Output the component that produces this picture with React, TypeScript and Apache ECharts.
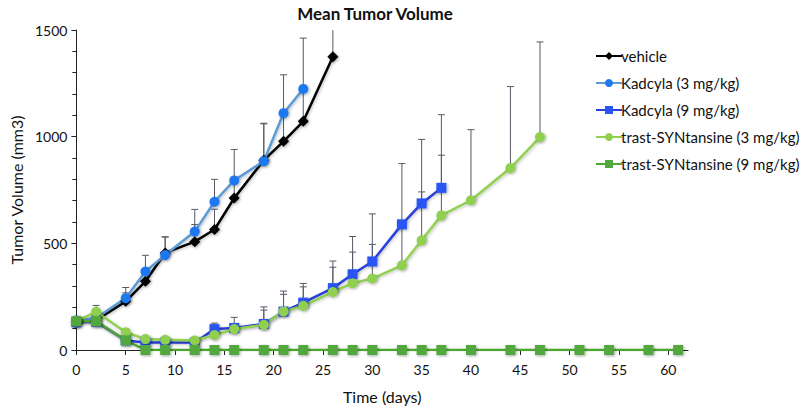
import React, { useEffect, useRef } from "react";
import * as echarts from "echarts";

const vehicleDays = [0, 2, 5, 7, 9, 12, 14, 16, 19, 21, 23, 26];
const vehicleVol = [135, 140, 228, 322, 455, 508, 565, 712, 890, 978, 1072, 1375];
const vehicleErr = [12, 25, 40, 45, 75, 80, 95, 85, 170, 130, 150, 200];

const kad3Days = [0, 2, 5, 7, 9, 12, 14, 16, 19, 21, 23];
const kad3Vol = [138, 150, 243, 368, 445, 555, 695, 795, 885, 1110, 1224];
const kad3Err = [15, 30, 50, 76, 85, 104, 105, 145, 178, 180, 238];

const kad9Days = [0, 2, 5, 7, 9, 12, 14, 16, 19, 21, 23, 26, 28, 30, 33, 35, 37];
const kad9Vol = [130, 132, 45, 35, 35, 35, 98, 103, 122, 180, 222, 290, 355, 415, 589, 687, 760];
const kad9Err = [12, 20, 15, 10, 10, 10, 28, 50, 80, 96, 90, 127, 177, 223, 285, 300, 343];

const trast3Days = [0, 2, 5, 7, 9, 12, 14, 16, 19, 21, 23, 26, 28, 30, 33, 35, 37, 40, 44, 47];
const trast3Vol = [135, 179, 83, 51, 48, 45, 70, 98, 118, 181, 207, 272, 313, 335, 397, 514, 631, 702, 853, 998];
const trast3Err = [12, 30, 15, 10, 10, 10, 15, 25, 69, 80, 89, 116, 146, 160, 200, 227, 282, 331, 382, 446];

const trast9Days = [0, 2, 5, 7, 9, 12, 14, 16, 19, 21, 23, 26, 28, 30, 33, 35, 37, 40, 44, 47, 51, 54, 58, 61];
const trast9Vol = [135, 135, 45, 0, 0, 0, 0, 0, 0, 0, 0, 0, 0, 0, 0, 0, 0, 0, 0, 0, 0, 0, 0, 0];
const trast9Err = [10, 15, 10, 0, 0, 0, 0, 0, 0, 0, 0, 0, 0, 0, 0, 0, 0, 0, 0, 0, 0, 0, 0, 0];

const FONT = "Lato";

function pairs(days: number[], vals: number[]) {
  return days.map((d, i) => [d, vals[i]]);
}
function errData(days: number[], vals: number[], errs: number[]) {
  return days.map((d, i) => [d, vals[i], vals[i] + errs[i]]);
}

function errorSeries(name: string, days: number[], vals: number[], errs: number[]) {
  return {
    type: "custom",
    name: name + "-err",
    z: 1,
    silent: true,
    data: errData(days, vals, errs),
    renderItem: (params: any, api: any) => {
      const x = api.value(0);
      const lo = api.coord([x, api.value(1)]);
      const hi = api.coord([x, api.value(2)]);
      const cs = params.coordSys;
      if (api.value(2) - api.value(1) <= 0) return null;
      const clipped = hi[1] < cs.y;
      const topY = Math.max(hi[1], cs.y);
      const children: any[] = [
        {
          type: "line",
          shape: { x1: lo[0], y1: lo[1], x2: hi[0], y2: topY },
          style: { stroke: "#555a66", lineWidth: 1 },
        },
      ];
      if (!clipped) {
        children.push({
          type: "line",
          shape: { x1: hi[0] - 3.5, y1: hi[1], x2: hi[0] + 3.5, y2: hi[1] },
          style: { stroke: "#555a66", lineWidth: 1 },
        });
      }
      return { type: "group", children };
    },
  };
}

function lineSeries(name: string, days: number[], vals: number[], lineColor: string, markerColor: string, symbol: string, size: number) {
  return {
    type: "line",
    name,
    z: 3,
    data: pairs(days, vals),
    symbol,
    symbolSize: size,
    lineStyle: { color: lineColor, width: 2.5, shadowColor: "rgba(0,0,0,0.25)", shadowBlur: 3, shadowOffsetX: 1, shadowOffsetY: 1 },
    itemStyle: { color: markerColor, borderWidth: 0, shadowColor: "rgba(0,0,0,0.35)", shadowBlur: 3, shadowOffsetX: 1, shadowOffsetY: 1 },
  };
}

export default function App() {
  const ref = useRef<HTMLDivElement>(null);
  useEffect(() => {
    if (!ref.current) return;
    const chart = echarts.init(ref.current, undefined, { renderer: "svg" });
    chart.setOption({
      animation: false,
      backgroundColor: "#ffffff",
      title: {
        text: "Mean Tumor Volume",
        left: 370,
        textAlign: "center",
        top: 0,
        textStyle: { fontFamily: FONT, fontSize: 17, fontWeight: "bold", color: "#111" },
      },
      legend: {
        orient: "vertical",
        left: 590,
        top: 43,
        itemGap: 11,
        itemWidth: 26,
        itemHeight: 10,
        textStyle: { fontFamily: FONT, fontSize: 15, lineHeight: 16, color: "#111", padding: [0, 0, 0, -6] },
        data: ["vehicle", "Kadcyla (3 mg/kg)", "Kadcyla (9 mg/kg)", "trast-SYNtansine (3 mg/kg)", "trast-SYNtansine (9 mg/kg)"],
      },
      grid: { left: 74, right: 112, top: 30, bottom: 58, containLabel: false },
      xAxis: {
        type: "value",
        min: 0,
        max: 62,
        interval: 5,
        name: "Time (days)",
        nameLocation: "middle",
        nameGap: 38,
        nameTextStyle: { fontFamily: FONT, fontSize: 16, color: "#111" },
        splitLine: { show: false },
        axisLine: { show: true, onZero: false, lineStyle: { color: "#222", width: 1 } },
        axisTick: { show: true, length: 5, lineStyle: { color: "#222" } },
        axisLabel: { fontFamily: FONT, fontSize: 14, color: "#111", margin: 12, showMaxLabel: false },
      },
      yAxis: {
        type: "value",
        min: 0,
        max: 1500,
        interval: 500,
        name: "Tumor Volume (mm3)",
        nameLocation: "middle",
        nameGap: 52,
        nameTextStyle: { fontFamily: FONT, fontSize: 16, color: "#111" },
        splitLine: { show: false },
        axisLine: { show: true, lineStyle: { color: "#222", width: 1 } },
        axisTick: { show: true, length: 5, lineStyle: { color: "#222" } },
        minorTick: { show: true, splitNumber: 5, length: 4, lineStyle: { color: "#222" } },
        minorSplitLine: { show: false },
        axisLabel: { fontFamily: FONT, fontSize: 14, color: "#111", margin: 9, formatter: (v: number) => String(v) },
      },
      series: [
        errorSeries("vehicle", vehicleDays, vehicleVol, vehicleErr),
        errorSeries("kad3", kad3Days, kad3Vol, kad3Err),
        errorSeries("kad9", kad9Days, kad9Vol, kad9Err),
        errorSeries("trast3", trast3Days, trast3Vol, trast3Err),
        errorSeries("trast9", trast9Days, trast9Vol, trast9Err),
        lineSeries("vehicle", vehicleDays, vehicleVol, "#000000", "#000000", "diamond", 11),
        lineSeries("Kadcyla (3 mg/kg)", kad3Days, kad3Vol, "#5b9bd5", "#1f78f0", "circle", 10),
        lineSeries("Kadcyla (9 mg/kg)", kad9Days, kad9Vol, "#2a3fd8", "#2a55f5", "rect", 10),
        lineSeries("trast-SYNtansine (3 mg/kg)", trast3Days, trast3Vol, "#92d050", "#8fd14f", "circle", 10),
        lineSeries("trast-SYNtansine (9 mg/kg)", trast9Days, trast9Vol, "#4ea72e", "#52a83e", "rect", 10),
      ],
    });
    return () => chart.dispose();
  }, []);
  return <div ref={ref} style={{ position: "fixed", left: 0, top: 0, width: 800, height: 409 }} />;
}
